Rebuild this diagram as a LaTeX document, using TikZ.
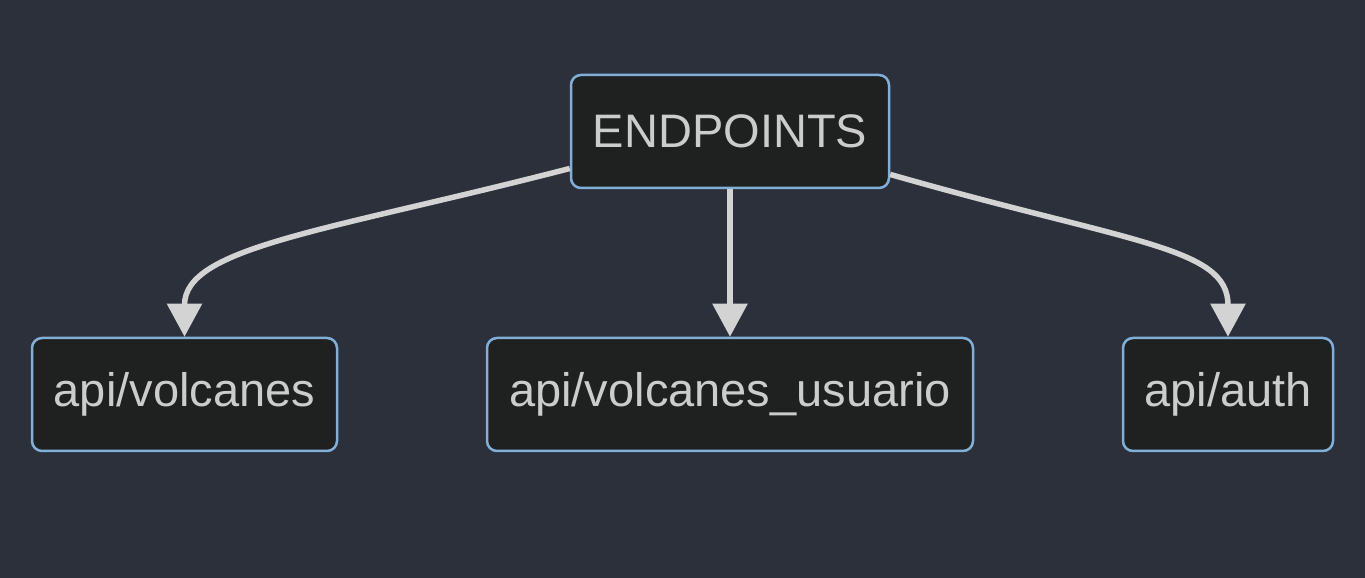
\documentclass[tikz,border=0pt]{standalone}
\usepackage{fontspec}
\setmainfont{Liberation Sans}
\usetikzlibrary{arrows.meta}
\definecolor{bgcol}{HTML}{2B303B}
\definecolor{boxfill}{HTML}{1F2020}
\definecolor{boxline}{HTML}{81AFD8}
\definecolor{txtcol}{HTML}{CCCCCC}
\definecolor{edgecol}{HTML}{D3D3D3}
\tikzset{
  box/.style={draw=boxline, fill=boxfill, line width=2.5pt, rounded corners=10pt,
    minimum height=113pt, text=txtcol, font=\fontsize{47}{56}\selectfont, inner sep=0pt},
  edge/.style={draw=edgecol, line width=5.5pt, -{Triangle[length=33pt,width=34pt]}}
}
\begin{document}
\begin{tikzpicture}[x=1pt,y=1pt]
  \fill[bgcol] (0,0) rectangle (1365,578);
  \useasboundingbox (0,0) rectangle (1365,578);
  \node[box, minimum width=318pt] (endp) at (730,446.5) {ENDPOINTS};
  \node[box, minimum width=305pt] (volc) at (184.5,183.5) {api/volcanes};
  \node[box, minimum width=486pt] (volcusr) at (730,183.5) {api/volcanes\_usuario};
  \node[box, minimum width=210pt] (auth) at (1228,183.5) {api/auth};
  \draw[edge] (endp.193) .. controls +(194.5:250) and +(0,90) .. (volc.north);
  \draw[edge] (endp.south) -- (volcusr.north);
  \draw[edge] (endp.345) .. controls +(-16:250) and +(0,90) .. (auth.north);
\end{tikzpicture}
\end{document}
